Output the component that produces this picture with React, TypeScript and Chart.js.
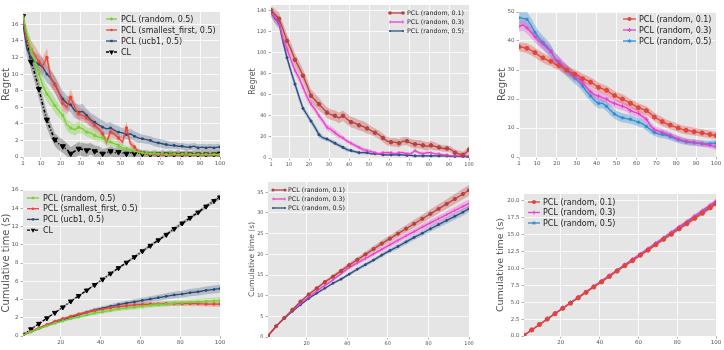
import React, { useEffect, useRef } from 'react';
import { Chart, registerables } from 'chart.js';
Chart.register(...registerables);

const FONT = '"DejaVu Sans", sans-serif';

// ---------- x positions ----------
const XS_TOP = [1, 3, 5, 7, 9, 11, 13, 15, 17, 19, 21, 23, 25, 27, 29, 31, 33, 35, 37, 39, 41, 43, 45, 47, 49, 51, 53, 55, 57, 59, 61, 63, 65, 67, 69, 71, 73, 75, 77, 79, 81, 83, 85, 87, 89, 91, 93, 95, 97, 99, 100];
const XS_BOT = [1, 5, 9, 13, 17, 21, 25, 29, 33, 37, 41, 45, 49, 53, 57, 61, 65, 69, 73, 77, 81, 85, 89, 93, 97, 100];

// ---------- tick labels ----------
const X_TICKS_TOP = [1, 10, 20, 30, 40, 50, 60, 70, 80, 90, 100];
const X_TICKS_BOT = [20, 40, 60, 80, 100];
const Y_TICKS_P1 = [0, 2, 4, 6, 8, 10, 12, 14, 16];
const Y_TICKS_P2 = [0, 20, 40, 60, 80, 100, 120, 140];
const Y_TICKS_P3 = [0, 10, 20, 30, 40, 50];
const Y_TICKS_P4 = [0, 2, 4, 6, 8, 10, 12, 14, 16];
const Y_TICKS_P5 = [0, 5, 10, 15, 20, 25, 30, 35];
const Y_TICKS_P6 = [0, 2.5, 5, 7.5, 10, 12.5, 15, 17.5, 20];

// ---------- panel 1: regret ----------
const P1_RANDOM = [17.0, 14.8, 13.0, 11.6, 10.0, 8.6, 7.6, 7.0, 6.2, 5.6, 5.0, 3.9, 3.5, 3.3, 3.6, 3.4, 3.0, 2.9, 2.6, 2.4, 2.3, 1.9, 1.8, 1.6, 1.4, 1.1, 1.0, 0.9, 0.7, 0.6, 0.5, 0.45, 0.4, 0.45, 0.35, 0.4, 0.3, 0.35, 0.4, 0.3, 0.35, 0.4, 0.3, 0.35, 0.3, 0.35, 0.3, 0.35, 0.3, 0.35, 0.3];
const P1_RANDOM_ERR = [0.5, 0.9, 1.0, 1.0, 1.0, 1.0, 0.9, 0.9, 0.9, 0.8, 0.8, 0.7, 0.7, 0.7, 0.7, 0.6, 0.6, 0.6, 0.6, 0.5, 0.5, 0.5, 0.5, 0.4, 0.4, 0.4, 0.3, 0.3, 0.3, 0.3, 0.2, 0.2, 0.2, 0.2, 0.2, 0.2, 0.2, 0.2, 0.2, 0.2, 0.2, 0.2, 0.2, 0.2, 0.2, 0.2, 0.2, 0.2, 0.2, 0.2, 0.2];
const P1_SMALLEST = [16.5, 14.0, 13.0, 12.3, 11.5, 11.0, 12.0, 9.5, 8.7, 7.8, 6.5, 6.0, 7.2, 6.0, 5.2, 5.0, 4.7, 4.3, 3.8, 3.4, 2.8, 1.8, 3.0, 2.8, 2.3, 1.8, 3.5, 1.6, 1.2, 0.6, 0.5, 0.4, 0.35, 0.3, 0.3, 0.25, 0.3, 0.25, 0.3, 0.25, 0.3, 0.25, 0.3, 0.25, 0.3, 0.25, 0.3, 0.25, 0.3, 0.25, 0.25];
const P1_SMALLEST_ERR = [0.5, 1.0, 1.1, 1.1, 1.1, 1.0, 1.2, 1.0, 1.0, 0.9, 0.9, 0.9, 1.0, 0.8, 0.8, 0.8, 0.7, 0.7, 0.7, 0.6, 0.6, 0.5, 0.7, 0.6, 0.5, 0.5, 0.8, 0.5, 0.4, 0.3, 0.2, 0.2, 0.2, 0.2, 0.2, 0.2, 0.2, 0.2, 0.2, 0.2, 0.2, 0.2, 0.2, 0.2, 0.2, 0.2, 0.2, 0.2, 0.2, 0.2, 0.2];
const P1_UCB = [16.0, 13.0, 12.0, 11.5, 11.2, 10.8, 10.0, 9.5, 8.8, 7.8, 7.0, 6.5, 6.3, 5.6, 5.4, 5.5, 5.0, 4.5, 4.2, 3.9, 3.6, 3.4, 3.5, 3.2, 3.0, 2.9, 2.7, 2.8, 2.5, 2.3, 2.2, 2.1, 2.0, 1.8, 1.7, 1.6, 1.5, 1.4, 1.4, 1.3, 1.3, 1.2, 1.2, 1.3, 1.1, 1.2, 1.1, 1.2, 1.1, 1.2, 1.2];
const P1_UCB_ERR = [0.6, 1.0, 1.1, 1.1, 1.1, 1.1, 1.0, 1.0, 1.0, 1.0, 1.0, 0.9, 0.9, 0.9, 0.9, 0.9, 0.8, 0.8, 0.8, 0.8, 0.8, 0.7, 0.7, 0.7, 0.7, 0.6, 0.6, 0.6, 0.6, 0.6, 0.5, 0.5, 0.5, 0.5, 0.5, 0.5, 0.5, 0.4, 0.4, 0.4, 0.4, 0.4, 0.4, 0.4, 0.4, 0.4, 0.4, 0.4, 0.4, 0.4, 0.4];
const P1_CL = [17.0, 14.0, 11.5, 10.0, 8.2, 6.2, 4.5, 3.2, 2.1, 1.6, 1.3, 0.9, 0.4, 0.7, 1.0, 0.9, 0.8, 1.0, 0.7, 0.6, 0.4, 0.5, 0.7, 0.5, 0.6, 0.5, 0.4, 0.5, 0.4, 0.5, 0.4, 0.4, 0.3, 0.4, 0.3, 0.4, 0.3, 0.4, 0.3, 0.4, 0.3, 0.4, 0.3, 0.4, 0.3, 0.4, 0.3, 0.4, 0.3, 0.4, 0.4];
const P1_CL_ERR = [0.5, 0.9, 1.0, 1.1, 1.1, 1.1, 1.0, 0.9, 0.8, 0.8, 0.8, 0.8, 0.8, 0.8, 0.8, 0.8, 0.8, 0.7, 0.7, 0.7, 0.6, 0.6, 0.6, 0.6, 0.6, 0.5, 0.5, 0.5, 0.5, 0.5, 0.4, 0.4, 0.4, 0.4, 0.4, 0.4, 0.4, 0.4, 0.4, 0.4, 0.4, 0.4, 0.4, 0.4, 0.4, 0.4, 0.4, 0.4, 0.4, 0.4, 0.4];

// ---------- panel 2: regret ----------
const P2_R01 = [140, 136, 132, 122, 111, 103, 93, 86, 78, 69, 59, 55, 51, 47, 43, 41, 40, 38, 40, 37, 34, 33, 31, 30, 28, 26, 24, 22, 19, 16, 15, 15, 14, 16, 16, 14, 13, 13, 12, 11, 12, 11, 10, 9, 9, 8, 5, 4, 3, 6, 8];
const P2_R01_ERR = [4, 5, 6, 6, 6, 6, 6, 6, 6, 6, 6, 6, 6, 5, 5, 5, 5, 5, 5, 5, 5, 5, 5, 5, 5, 4, 4, 4, 4, 4, 4, 4, 4, 4, 4, 4, 4, 4, 4, 4, 4, 4, 3, 3, 3, 3, 3, 3, 3, 3, 3];
const P2_R03 = [138, 133, 128, 113, 103, 93, 83, 76, 67, 58, 51, 46, 40, 35, 29, 27, 24, 21, 19, 16, 14, 12, 10, 8, 7, 6, 5, 4, 5, 5, 5, 4, 5, 5, 4, 4, 7, 5, 4, 5, 5, 4, 4, 3, 3, 2, 2, 2, 2, 2, 2];
const P2_R03_ERR = [4, 5, 5, 5, 5, 4, 4, 4, 4, 4, 3, 3, 3, 3, 3, 3, 3, 3, 2, 2, 2, 2, 2, 2, 2, 2, 1.5, 1.5, 1.5, 1.5, 1.5, 1.5, 1.5, 1.5, 1.5, 1.5, 1.5, 1.5, 1.5, 1.5, 1, 1, 1, 1, 1, 1, 1, 1, 1, 1, 1];
const P2_R05 = [138, 132, 128, 110, 95, 82, 70, 58, 47, 41, 35, 29, 22, 19, 18, 16, 14, 12, 10, 8, 7, 6, 5, 5, 5, 4, 4, 4, 3, 3, 3, 3, 3, 3, 2.5, 2.5, 2, 2, 2, 2, 2, 2, 2, 2, 2, 1.5, 1.5, 1.5, 1.5, 1, 1];
const P2_R05_ERR = [4, 5, 5, 4, 4, 4, 4, 4, 3, 3, 3, 3, 3, 2, 2, 2, 2, 2, 2, 2, 1.5, 1.5, 1.5, 1.5, 1.5, 1, 1, 1, 1, 1, 1, 1, 1, 1, 1, 1, 1, 1, 1, 1, 1, 1, 1, 1, 1, 1, 1, 1, 1, 1, 1];

// ---------- panel 3: regret ----------
const P3_R01 = [38, 37.8, 37.5, 36.8, 36, 35, 34.2, 33.5, 33, 32, 31.5, 30.8, 30, 29.2, 28.6, 28, 27, 26.5, 25.8, 25, 24, 23.5, 23, 22, 21.2, 20.5, 20, 19.3, 18.5, 17.8, 17, 16.5, 16, 15, 13.8, 13, 12.2, 11.5, 11, 10.5, 10, 9.5, 9.2, 9, 8.7, 8.5, 8.3, 8, 7.8, 7.5, 7.4];
const P3_R01_ERR = [1.5, 1.6, 1.7, 1.7, 1.7, 1.7, 1.7, 1.7, 1.6, 1.6, 1.6, 1.6, 1.6, 1.6, 1.6, 1.6, 1.6, 1.6, 1.6, 1.6, 1.6, 1.6, 1.6, 1.6, 1.6, 1.6, 1.6, 1.6, 1.5, 1.5, 1.5, 1.5, 1.5, 1.5, 1.5, 1.5, 1.5, 1.4, 1.4, 1.4, 1.4, 1.4, 1.4, 1.4, 1.4, 1.3, 1.3, 1.3, 1.3, 1.3, 1.3];
const P3_R03 = [45, 45.5, 44.5, 43, 41.5, 40, 39, 37.5, 36.5, 34, 33, 31.5, 30, 29, 27.8, 27, 25.5, 24, 22.5, 21.5, 21, 20.5, 20, 19, 18.5, 18, 17.5, 17, 16, 15.5, 15, 14, 13, 11, 9.5, 9, 8.5, 8, 7.5, 6.8, 6.2, 5.8, 5.5, 5.2, 5, 4.8, 4.6, 4.3, 4, 3.6, 3.5];
const P3_R03_ERR = [1.8, 2.0, 2.0, 2.0, 2.0, 2.0, 1.9, 1.9, 1.9, 1.8, 1.8, 1.8, 1.8, 1.7, 1.7, 1.7, 1.7, 1.6, 1.6, 1.6, 1.6, 1.5, 1.5, 1.5, 1.5, 1.5, 1.4, 1.4, 1.4, 1.4, 1.3, 1.3, 1.3, 1.2, 1.2, 1.2, 1.2, 1.1, 1.1, 1.1, 1.1, 1.0, 1.0, 1.0, 1.0, 1.0, 1.0, 1.0, 1.0, 1.0, 1.0];
const P3_R05 = [48, 47.8, 47.5, 45.5, 43, 41, 39.5, 38.2, 36.5, 34, 32.5, 31, 29.8, 28.5, 27.2, 26, 24.5, 22.5, 21, 19.5, 18.5, 18.5, 17.5, 16, 14.8, 14, 13.5, 13.2, 13, 12.5, 12, 11.5, 10.5, 9.5, 8.5, 8, 7.8, 7.5, 7, 6.5, 6, 5.6, 5.2, 5, 5, 4.8, 4.6, 4.5, 4.6, 4.8, 4.8];
const P3_R05_ERR = [2.2, 2.5, 2.5, 2.5, 2.4, 2.4, 2.3, 2.3, 2.2, 2.2, 2.1, 2.1, 2.0, 2.0, 2.0, 1.9, 1.9, 1.9, 1.8, 1.8, 1.8, 1.7, 1.7, 1.7, 1.6, 1.6, 1.6, 1.5, 1.5, 1.5, 1.5, 1.4, 1.4, 1.4, 1.3, 1.3, 1.3, 1.3, 1.2, 1.2, 1.2, 1.2, 1.1, 1.1, 1.1, 1.1, 1.1, 1.0, 1.0, 1.0, 1.0];

// ---------- panel 4: cumulative time ----------
const P4_RANDOM = [0.1, 0.45, 0.8, 1.1, 1.4, 1.65, 1.9, 2.1, 2.3, 2.5, 2.65, 2.8, 2.95, 3.05, 3.15, 3.25, 3.35, 3.45, 3.5, 3.6, 3.65, 3.7, 3.75, 3.8, 3.85, 3.9];
const P4_RANDOM_ERR = [0.05, 0.08, 0.1, 0.12, 0.14, 0.15, 0.16, 0.17, 0.18, 0.19, 0.2, 0.21, 0.22, 0.23, 0.24, 0.25, 0.26, 0.27, 0.28, 0.29, 0.3, 0.31, 0.32, 0.33, 0.34, 0.35];
const P4_SMALLEST = [0.1, 0.5, 0.9, 1.25, 1.6, 1.9, 2.15, 2.4, 2.6, 2.8, 2.95, 3.1, 3.2, 3.3, 3.4, 3.45, 3.5, 3.5, 3.55, 3.55, 3.55, 3.55, 3.55, 3.5, 3.5, 3.5];
const P4_SMALLEST_ERR = [0.05, 0.07, 0.09, 0.1, 0.12, 0.13, 0.14, 0.15, 0.16, 0.17, 0.18, 0.19, 0.2, 0.2, 0.21, 0.22, 0.23, 0.24, 0.25, 0.25, 0.26, 0.27, 0.28, 0.28, 0.29, 0.3];
const P4_UCB = [0.1, 0.45, 0.8, 1.15, 1.45, 1.75, 2.05, 2.35, 2.6, 2.85, 3.05, 3.25, 3.45, 3.6, 3.75, 3.9, 4.05, 4.2, 4.35, 4.5, 4.6, 4.75, 4.85, 5.0, 5.1, 5.2];
const P4_UCB_ERR = [0.05, 0.07, 0.09, 0.11, 0.13, 0.15, 0.17, 0.18, 0.2, 0.21, 0.22, 0.24, 0.25, 0.27, 0.28, 0.3, 0.31, 0.33, 0.34, 0.36, 0.37, 0.39, 0.4, 0.42, 0.43, 0.45];
const P4_CL = [0.15, 0.75, 1.35, 1.95, 2.55, 3.15, 3.8, 4.4, 5.0, 5.6, 6.2, 6.85, 7.45, 8.05, 8.65, 9.3, 9.9, 10.5, 11.1, 11.75, 12.35, 12.95, 13.55, 14.2, 14.8, 15.2];
const P4_CL_ERR = [0.05, 0.06, 0.07, 0.08, 0.09, 0.1, 0.1, 0.11, 0.12, 0.12, 0.13, 0.14, 0.14, 0.15, 0.16, 0.16, 0.17, 0.18, 0.18, 0.19, 0.2, 0.2, 0.21, 0.22, 0.22, 0.23];

// ---------- panel 5: cumulative time ----------
const P5_R01 = [0.3, 2.6, 4.6, 6.6, 8.6, 10.3, 11.8, 13.3, 14.6, 16.0, 17.4, 18.7, 20.0, 21.3, 22.6, 23.8, 25.0, 26.2, 27.4, 28.6, 29.8, 31.0, 32.2, 33.4, 34.6, 35.5];
const P5_R01_ERR = [0.05, 0.1, 0.15, 0.2, 0.25, 0.3, 0.35, 0.4, 0.45, 0.5, 0.55, 0.6, 0.65, 0.7, 0.75, 0.8, 0.85, 0.9, 0.95, 1.0, 1.05, 1.1, 1.15, 1.2, 1.25, 1.3];
const P5_R03 = [0.3, 2.6, 4.6, 6.4, 8.1, 9.7, 11.1, 12.5, 13.8, 15.3, 16.8, 17.9, 19.0, 20.1, 21.2, 22.3, 23.4, 24.5, 25.5, 26.6, 27.6, 28.6, 29.6, 30.6, 31.6, 32.3];
const P5_R03_ERR = [0.05, 0.08, 0.12, 0.15, 0.2, 0.23, 0.27, 0.3, 0.34, 0.38, 0.41, 0.45, 0.48, 0.52, 0.56, 0.6, 0.63, 0.67, 0.7, 0.74, 0.78, 0.81, 0.85, 0.88, 0.92, 0.95];
const P5_R05 = [0.3, 2.6, 4.5, 6.2, 7.8, 9.3, 10.6, 11.8, 13.0, 14.0, 15.2, 16.4, 17.5, 18.6, 19.8, 20.9, 21.9, 23.0, 24.1, 25.1, 26.2, 27.2, 28.2, 29.2, 30.2, 31.0];
const P5_R05_ERR = [0.05, 0.08, 0.11, 0.14, 0.18, 0.21, 0.25, 0.28, 0.31, 0.35, 0.38, 0.41, 0.45, 0.48, 0.51, 0.55, 0.58, 0.61, 0.65, 0.68, 0.71, 0.75, 0.78, 0.81, 0.85, 0.88];

// ---------- panel 6: cumulative time ----------
const P6_R01 = [0.1, 0.9, 1.7, 2.5, 3.3, 4.1, 4.85, 5.65, 6.45, 7.25, 8.0, 8.8, 9.6, 10.4, 11.15, 11.95, 12.7, 13.5, 14.3, 15.05, 15.85, 16.6, 17.4, 18.15, 18.95, 19.55];
const P6_R03 = [0.1, 0.9, 1.7, 2.55, 3.35, 4.15, 4.95, 5.75, 6.55, 7.35, 8.15, 8.95, 9.75, 10.55, 11.35, 12.15, 12.95, 13.75, 14.55, 15.35, 16.15, 16.95, 17.75, 18.55, 19.35, 19.95];
const P6_R05 = [0.1, 0.9, 1.7, 2.5, 3.3, 4.1, 4.9, 5.7, 6.5, 7.3, 8.1, 8.9, 9.7, 10.5, 11.3, 12.1, 12.85, 13.65, 14.45, 15.25, 16.05, 16.8, 17.6, 18.4, 19.2, 19.8];
const P6_ERR = [0.03, 0.04, 0.05, 0.06, 0.07, 0.08, 0.09, 0.1, 0.11, 0.12, 0.13, 0.14, 0.15, 0.16, 0.17, 0.18, 0.19, 0.2, 0.21, 0.22, 0.23, 0.24, 0.25, 0.26, 0.27, 0.28];

// ---------- styling ----------
const GREEN = '#77CF35', GREEN_B = 'rgba(119,207,53,0.35)';
const RED1 = '#E8453C', RED1_B = 'rgba(232,69,60,0.3)';
const NAVY = '#2B4A72', NAVY_B = 'rgba(60,90,130,0.3)';
const BLACK = '#000000', BLACK_B = 'rgba(0,0,0,0.25)';
const DRED = '#B5423E', DRED_B = 'rgba(200,70,65,0.35)';
const MAG = '#EE3ED2', MAG_B = 'rgba(240,60,210,0.3)';
const NAVY2 = '#2C4E7E', NAVY2_B = 'rgba(60,110,180,0.3)';
const RED3 = '#E0443A', RED3_B = 'rgba(230,70,60,0.35)';
const MAG3 = '#E83ECC', MAG3_B = 'rgba(232,62,204,0.3)';
const BLUE3 = '#2E8CD4', BLUE3_B = 'rgba(46,140,212,0.35)';

type Series = {
  label: string; data: number[]; err: number[]; color: string; band: string;
  marker: string; r: number; rot?: number; dash?: number[]; width?: number;
};
type Panel = {
  left: number; top: number; w: number; h: number;
  plot: { l: number; t: number; r: number; b: number };
  xs: number[]; series: Series[];
  xMin: number; xMax: number; yMax: number; xTicks: number[]; yTicks: number[];
  yFmt?: (v: number) => string;
  title: string; titleSize: number; titlePad: number; tickSize: number;
  every: number;
  legend: { x: number; y: number; dy: number; len: number; gap: number; size: number; two?: boolean };
};

const PANELS: Panel[] = [
  {
    left: 0, top: 0, w: 241, h: 175, plot: { l: 23, t: 12, r: 220, b: 157 },
    xs: XS_TOP, xMin: 1, xMax: 100, yMax: 17.5, xTicks: X_TICKS_TOP, yTicks: Y_TICKS_P1,
    title: 'Regret', titleSize: 10, titlePad: 0, tickSize: 5.5, every: 2,
    legend: { x: 106, y: 19, dy: 11, len: 11, gap: 4, size: 8 },
    series: [
      { label: 'PCL (random, 0.5)', data: P1_RANDOM, err: P1_RANDOM_ERR, color: GREEN, band: GREEN_B, marker: 'star', r: 1.6 },
      { label: 'PCL (smallest_first, 0.5)', data: P1_SMALLEST, err: P1_SMALLEST_ERR, color: RED1, band: RED1_B, marker: 'circle', r: 1.3 },
      { label: 'PCL (ucb1, 0.5)', data: P1_UCB, err: P1_UCB_ERR, color: NAVY, band: NAVY_B, marker: 'rect', r: 1.2 },
      { label: 'CL', data: P1_CL, err: P1_CL_ERR, color: BLACK, band: BLACK_B, marker: 'triangle', r: 3, rot: 180, dash: [3, 2, 1, 2], width: 1.6 },
    ],
  },
  {
    left: 241, top: 0, w: 241, h: 175, plot: { l: 271, t: 5, r: 469, b: 158 },
    xs: XS_TOP, xMin: 1, xMax: 100, yMax: 145, xTicks: X_TICKS_TOP, yTicks: Y_TICKS_P2,
    title: 'Regret', titleSize: 8, titlePad: 7, tickSize: 5, every: 2,
    legend: { x: 390, y: 13, dy: 9, len: 13, gap: 4, size: 6.3, two: true },
    series: [
      { label: 'PCL (random, 0.1)', data: P2_R01, err: P2_R01_ERR, color: DRED, band: DRED_B, marker: 'circle', r: 1.8 },
      { label: 'PCL (random, 0.3)', data: P2_R03, err: P2_R03_ERR, color: MAG, band: MAG_B, marker: 'line', r: 1.5, rot: 90 },
      { label: 'PCL (random, 0.5)', data: P2_R05, err: P2_R05_ERR, color: NAVY2, band: NAVY2_B, marker: 'circle', r: 1.1 },
    ],
  },
  {
    left: 482, top: 0, w: 242, h: 175, plot: { l: 519, t: 12, r: 716, b: 157 },
    xs: XS_TOP, xMin: 1, xMax: 100, yMax: 50, xTicks: X_TICKS_TOP, yTicks: Y_TICKS_P3,
    title: 'Regret', titleSize: 10, titlePad: 14, tickSize: 5.5, every: 2,
    legend: { x: 623, y: 19, dy: 11, len: 13, gap: 3, size: 8 },
    series: [
      { label: 'PCL (random, 0.1)', data: P3_R01, err: P3_R01_ERR, color: RED3, band: RED3_B, marker: 'circle', r: 2 },
      { label: 'PCL (random, 0.3)', data: P3_R03, err: P3_R03_ERR, color: MAG3, band: MAG3_B, marker: 'cross', r: 2 },
      { label: 'PCL (random, 0.5)', data: P3_R05, err: P3_R05_ERR, color: BLUE3, band: BLUE3_B, marker: 'star', r: 1.8 },
    ],
  },
  {
    left: 0, top: 175, w: 241, h: 175, plot: { l: 23, t: 190, r: 220, b: 336 },
    xs: XS_BOT, xMin: 1, xMax: 100, yMax: 16, xTicks: X_TICKS_BOT, yTicks: Y_TICKS_P4,
    title: 'Cumulative time (s)', titleSize: 10, titlePad: 0, tickSize: 5.5, every: 1,
    legend: { x: 27, y: 198, dy: 10.7, len: 12, gap: 4, size: 8 },
    series: [
      { label: 'PCL (random, 0.5)', data: P4_RANDOM, err: P4_RANDOM_ERR, color: GREEN, band: GREEN_B, marker: 'star', r: 1.4 },
      { label: 'PCL (smallest_first, 0.5)', data: P4_SMALLEST, err: P4_SMALLEST_ERR, color: RED1, band: RED1_B, marker: 'circle', r: 1.2 },
      { label: 'PCL (ucb1, 0.5)', data: P4_UCB, err: P4_UCB_ERR, color: NAVY, band: NAVY_B, marker: 'rect', r: 1.1 },
      { label: 'CL', data: P4_CL, err: P4_CL_ERR, color: BLACK, band: BLACK_B, marker: 'triangle', r: 2.7, rot: 180, dash: [3, 2, 1, 2], width: 1.4 },
    ],
  },
  {
    left: 241, top: 175, w: 241, h: 175, plot: { l: 268, t: 182, r: 469, b: 337 },
    xs: XS_BOT, xMin: 1, xMax: 100, yMax: 37.5, xTicks: X_TICKS_BOT, yTicks: Y_TICKS_P5,
    title: 'Cumulative time (s)', titleSize: 7.6, titlePad: 6.5, tickSize: 5, every: 1,
    legend: { x: 273, y: 190, dy: 9, len: 12, gap: 3, size: 6.3, two: true },
    series: [
      { label: 'PCL (random, 0.1)', data: P5_R01, err: P5_R01_ERR, color: DRED, band: DRED_B, marker: 'circle', r: 1.6 },
      { label: 'PCL (random, 0.3)', data: P5_R03, err: P5_R03_ERR, color: MAG, band: MAG_B, marker: 'line', r: 1.3, rot: 90 },
      { label: 'PCL (random, 0.5)', data: P5_R05, err: P5_R05_ERR, color: NAVY2, band: NAVY2_B, marker: 'circle', r: 1.0 },
    ],
  },
  {
    left: 482, top: 175, w: 242, h: 175, plot: { l: 524, t: 194, r: 716, b: 336 },
    xs: XS_BOT, xMin: 1, xMax: 100, yMax: 21, xTicks: X_TICKS_BOT, yTicks: Y_TICKS_P6,
    yFmt: (v: number) => v.toFixed(1),
    title: 'Cumulative time (s)', titleSize: 9.5, titlePad: 13, tickSize: 5.5, every: 1,
    legend: { x: 528, y: 202, dy: 10.5, len: 12, gap: 3, size: 8 },
    series: [
      { label: 'PCL (random, 0.1)', data: P6_R01, err: P6_ERR, color: RED3, band: RED3_B, marker: 'circle', r: 2.1 },
      { label: 'PCL (random, 0.3)', data: P6_R03, err: P6_ERR, color: MAG3, band: MAG3_B, marker: 'cross', r: 2 },
      { label: 'PCL (random, 0.5)', data: P6_R05, err: P6_ERR, color: BLUE3, band: BLUE3_B, marker: 'star', r: 1.7 },
    ],
  },
];

function drawMarker(ctx: CanvasRenderingContext2D, style: string, x: number, y: number, r: number, color: string, rot = 0) {
  ctx.save();
  ctx.translate(x, y);
  ctx.rotate((rot * Math.PI) / 180);
  ctx.fillStyle = color;
  ctx.strokeStyle = color;
  ctx.lineWidth = 1;
  ctx.setLineDash([]);
  ctx.beginPath();
  if (style === 'circle') { ctx.arc(0, 0, r, 0, Math.PI * 2); ctx.fill(); }
  else if (style === 'rect') { ctx.fillRect(-r, -r, 2 * r, 2 * r); }
  else if (style === 'triangle') { ctx.moveTo(0, -r); ctx.lineTo(r * 0.87, r * 0.5); ctx.lineTo(-r * 0.87, r * 0.5); ctx.closePath(); ctx.fill(); }
  else if (style === 'cross') { ctx.moveTo(-r, 0); ctx.lineTo(r, 0); ctx.moveTo(0, -r); ctx.lineTo(0, r); ctx.stroke(); }
  else if (style === 'star') { ctx.moveTo(-r, 0); ctx.lineTo(r, 0); ctx.moveTo(0, -r); ctx.lineTo(0, r); ctx.moveTo(-r * 0.7, -r * 0.7); ctx.lineTo(r * 0.7, r * 0.7); ctx.moveTo(-r * 0.7, r * 0.7); ctx.lineTo(r * 0.7, -r * 0.7); ctx.stroke(); }
  else if (style === 'line') { ctx.moveTo(-r, 0); ctx.lineTo(r, 0); ctx.stroke(); }
  ctx.restore();
}

function buildConfig(p: Panel): any {
  const datasets: any[] = [];
  p.series.forEach((s) => {
    datasets.push({
      label: s.label,
      data: p.xs.map((x, i) => ({ x, y: s.data[i] })),
      borderColor: s.color,
      backgroundColor: s.color,
      borderWidth: s.width ?? 1.3,
      borderDash: s.dash ?? [],
      pointStyle: s.marker,
      pointRotation: s.rot ?? 0,
      pointRadius: (c: any) => (c.dataIndex % p.every === 0 ? s.r : 0),
      pointBorderWidth: 1,
      pointBorderColor: s.color,
      pointBackgroundColor: s.color,
      fill: false,
      tension: 0,
      order: 0,
    });
  });
  p.series.forEach((s) => {
    const idx = datasets.length;
    datasets.push({
      label: s.label + ' hi',
      data: p.xs.map((x, i) => ({ x, y: s.data[i] + s.err[i] })),
      borderWidth: 0, pointRadius: 0, backgroundColor: s.band, borderColor: 'transparent',
      fill: idx + 1, tension: 0, order: 10,
    });
    datasets.push({
      label: s.label + ' lo',
      data: p.xs.map((x, i) => ({ x, y: s.data[i] - s.err[i] })),
      borderWidth: 0, pointRadius: 0, backgroundColor: s.band, borderColor: 'transparent',
      fill: false, tension: 0, order: 10,
    });
  });

  const bgPlugin = {
    id: 'bgArea',
    beforeDraw(chart: any) {
      const { ctx, chartArea: a } = chart;
      ctx.save();
      ctx.fillStyle = '#E5E5E5';
      ctx.fillRect(a.left, a.top, a.right - a.left, a.bottom - a.top);
      ctx.restore();
    },
  };
  const legPlugin = {
    id: 'inLegend',
    afterDraw(chart: any) {
      const ctx: CanvasRenderingContext2D = chart.ctx;
      const L = p.legend;
      p.series.forEach((s, i) => {
        const x0 = L.x - p.left;
        const y = L.y - p.top + i * L.dy;
        ctx.save();
        ctx.strokeStyle = s.color;
        ctx.lineWidth = s.width ?? 1.3;
        ctx.setLineDash(s.dash ?? []);
        ctx.beginPath();
        ctx.moveTo(x0, y);
        ctx.lineTo(x0 + L.len, y);
        ctx.stroke();
        ctx.restore();
        if (L.two) {
          drawMarker(ctx, s.marker, x0, y, s.r, s.color, s.rot ?? 0);
          drawMarker(ctx, s.marker, x0 + L.len, y, s.r, s.color, s.rot ?? 0);
        } else {
          drawMarker(ctx, s.marker, x0 + L.len / 2, y, s.r, s.color, s.rot ?? 0);
        }
        ctx.save();
        ctx.fillStyle = '#222';
        ctx.font = `${L.size}px ${FONT}`;
        ctx.textBaseline = 'middle';
        ctx.textAlign = 'left';
        ctx.fillText(s.label, x0 + L.len + L.gap, y + 0.5);
        ctx.restore();
      });
    },
  };

  const tickFont = { size: p.tickSize, family: FONT };
  const grid = { color: '#FFFFFF', lineWidth: 0.8, tickLength: 2.5, tickColor: '#999999', drawTicks: true };
  return {
    type: 'line',
    data: { datasets },
    plugins: [bgPlugin, legPlugin],
    options: {
      animation: false,
      responsive: false,
      maintainAspectRatio: false,
      events: [],
      layout: { padding: { left: 0, top: p.plot.t - p.top, right: p.left + p.w - p.plot.r, bottom: 0 } },
      plugins: {
        legend: { display: false },
        tooltip: { enabled: false },
        filler: { drawTime: 'beforeDatasetsDraw', propagate: false },
      },
      scales: {
        x: {
          type: 'linear', min: p.xMin, max: p.xMax,
          afterBuildTicks: (s: any) => { s.ticks = p.xTicks.map((v) => ({ value: v })); },
          afterFit: (s: any) => { s.height = p.top + p.h - p.plot.b; },
          grid, border: { display: false },
          ticks: { font: tickFont, color: '#555555', padding: 1, maxRotation: 0, autoSkip: false, callback: (v: number) => String(v) },
        },
        y: {
          type: 'linear', min: 0, max: p.yMax,
          afterBuildTicks: (s: any) => { s.ticks = p.yTicks.map((v) => ({ value: v })); },
          afterFit: (s: any) => { s.width = p.plot.l - p.left; },
          grid, border: { display: false },
          ticks: { font: tickFont, color: '#555555', padding: 2, autoSkip: false, callback: (v: number) => (p.yFmt ? p.yFmt(v) : String(v)) },
          title: { display: true, text: p.title, color: '#555555', font: { size: p.titleSize, family: FONT }, padding: { top: p.titlePad, bottom: 0 } },
        },
      },
    },
  };
}

function PanelChart({ p }: { p: Panel }) {
  const ref = useRef<HTMLCanvasElement>(null);
  useEffect(() => {
    const chart = new Chart(ref.current as HTMLCanvasElement, buildConfig(p));
    return () => chart.destroy();
  }, [p]);
  return (
    <canvas
      ref={ref}
      width={p.w}
      height={p.h}
      style={{ position: 'absolute', left: p.left, top: p.top, width: p.w, height: p.h }}
    />
  );
}

export default function App() {
  return (
    <div style={{ position: 'absolute', left: 0, top: 0, width: 724, height: 350, background: '#fff', overflow: 'hidden' }}>
      {PANELS.map((p, i) => (
        <PanelChart key={i} p={p} />
      ))}
    </div>
  );
}
